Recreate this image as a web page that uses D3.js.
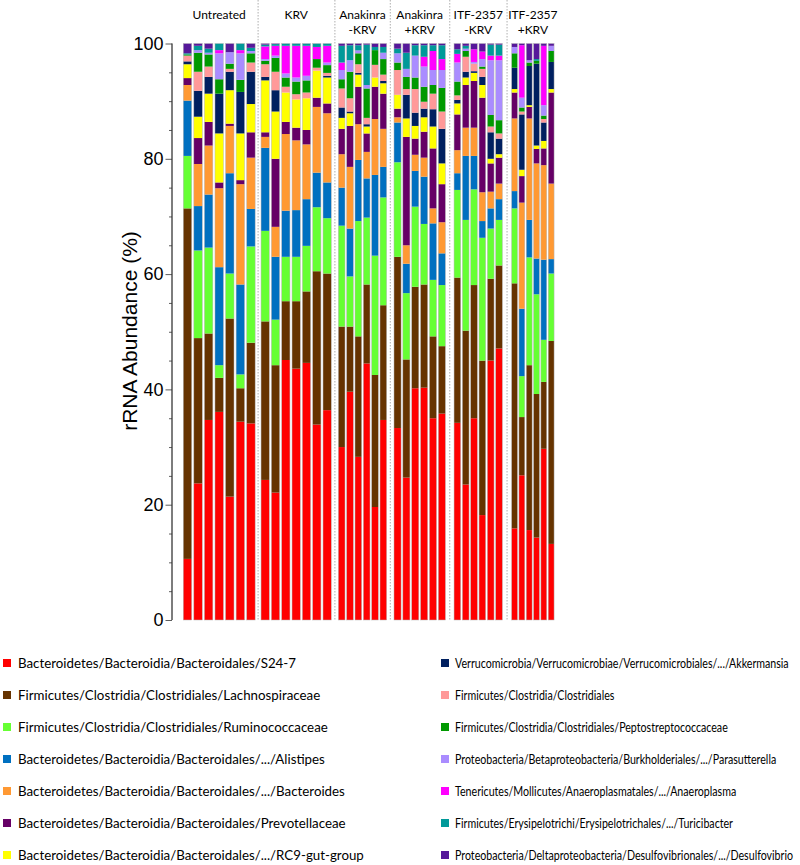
<!DOCTYPE html>
<html>
<head>
<meta charset="utf-8">
<script src="https://cdn.jsdelivr.net/npm/d3@7/dist/d3.min.js"></script>
<style>
  body { margin: 0; background: #ffffff; }
  svg { display: block; }
</style>
</head>
<body>
<svg id="chart" width="800" height="865"></svg>
<script>
// ---------------- DATA ----------------
const categories = [
  "Bacteroidetes/Bacteroidia/Bacteroidales/S24-7",
  "Firmicutes/Clostridia/Clostridiales/Lachnospiraceae",
  "Firmicutes/Clostridia/Clostridiales/Ruminococcaceae",
  "Bacteroidetes/Bacteroidia/Bacteroidales/.../Alistipes",
  "Bacteroidetes/Bacteroidia/Bacteroidales/.../Bacteroides",
  "Bacteroidetes/Bacteroidia/Bacteroidales/Prevotellaceae",
  "Bacteroidetes/Bacteroidia/Bacteroidales/.../RC9-gut-group",
  "Verrucomicrobia/Verrucomicrobiae/Verrucomicrobiales/.../Akkermansia",
  "Firmicutes/Clostridia/Clostridiales",
  "Firmicutes/Clostridia/Clostridiales/Peptostreptococcaceae",
  "Proteobacteria/Betaproteobacteria/Burkholderiales/.../Parasutterella",
  "Tenericutes/Mollicutes/Anaeroplasmatales/.../Anaeroplasma",
  "Firmicutes/Erysipelotrichi/Erysipelotrichales/.../Turicibacter",
  "Proteobacteria/Deltaproteobacteria/Desulfovibrionales/.../Desulfovibrio"
];

const groupLabels = [
  ["Untreated"],
  ["KRV"],
  ["Anakinra", "-KRV"],
  ["Anakinra", "+KRV"],
  ["ITF-2357", "-KRV"],
  ["ITF-2357", "+KRV"]
];

// each row = one animal; values (%) in the order of `categories`
const untreated = [
  [10.6, 60.8,  9.1,  9.6,  2.7,  1.2, 2.4, 0.5, 1.0, 0.2, 0,    0,    0.2,  1.7],
  [23.7, 25.2, 15.2,  7.7,  7.3,  4.5, 3.7, 4.5, 3.3, 3.3, 0.45, 0,    0.75, 0.4],
  [34.7, 15.0, 14.9,  9.2,  8.5,  4.1, 4.9, 2.9, 1.8, 2.1, 0.3,  0,    0.7,  0.9],
  [36.1,  5.9,  2.2, 17.0, 13.7,  1.0, 8.5, 6.9, 0,   2.5, 4.5,  0.55, 1.15, 0],
  [21.4, 30.9,  7.8, 17.4,  8.2,  0.4, 5.8, 3.2, 0.5, 0.9, 2.0,  0,    0,    1.5],
  [34.4,  5.8,  2.4, 15.6, 17.4,  0.7, 8.1, 7.2, 0,   2.1, 4.6,  0.55, 1.15, 0],
  [34.1, 14.0, 16.7,  6.5,  8.9,  4.4, 4.9, 5.6, 1.6, 1.6, 0.4,  0,    0.55, 0.75]
];
const krv = [
  [24.3, 27.5, 15.7, 14.4,  1.9,  0.8, 9.0, 0.6, 2.2, 0.6,  0.3,  2.2, 0.3, 0.2],
  [22.1, 22.1,  7.9, 10.9,  5.2, 11.8, 8.2, 3.7, 3.2, 2.4,  0.4,  1.7, 0.3, 0.1],
  [45.1, 10.2,  7.7,  8.0, 13.3,  2.1, 5.1, 0,   1.0, 1.6,  0.7,  4.8, 0.4, 0],
  [43.6, 11.7,  7.7,  8.1, 12.1,  2.2, 4.9, 0,   0.9, 2.2,  0.7,  5.5, 0.4, 0],
  [44.6, 12.4,  7.9,  8.1,  9.5,  2.5, 5.5, 0,   1.0, 2.1,  0.8,  5.2, 0.4, 0],
  [33.9, 26.6, 11.1,  6.0, 11.4,  1.6, 4.7, 0,   0.5, 1.5,  0,    2.1, 0.6, 0],
  [36.4, 23.7,  9.6,  6.2, 12.0,  1.7, 4.5, 0.3, 0.5, 1.35, 0.45, 2.9, 0.4, 0]
];
const anakinraNoKrv = [
  [30.0, 20.9, 17.5,  6.6,  5.8, 4.4, 1.9, 1.8, 3.3, 1.6,  1.6, 1.3, 2.9,  0.4],
  [39.6, 11.3,  8.7,  8.3, 10.7, 7.1, 2.2, 0.3, 2.3, 4.6,  2.0, 0,   2.6,  0.3],
  [28.3, 20.9, 20.0, 10.6,  6.2, 6.5, 2.1, 0.3, 1.5, 1.9,  0.5, 0,   0.9,  0.3],
  [44.5, 13.7, 11.6,  6.8,  4.6, 3.2, 1.2, 0.4, 1.1, 5.1,  0.6, 0,   7.0,  0.2],
  [19.6, 22.9, 20.7, 14.0,  9.7, 5.6, 1.6, 0,   2.2, 2.55, 0,   0,   0.55, 0.6],
  [34.7, 19.9, 18.7,  5.3,  6.6, 6.1, 1.8, 0.4, 1.1, 2.7,  1.1, 0,   1.0,  0.6]
];
const anakinraKrv = [
  [33.3, 29.7, 16.4, 6.9, 0.9,  1.5, 2.4, 0,   4.3, 1.3, 1.6, 0,   0.8, 0.9],
  [24.7, 20.5, 11.5, 5.1, 3.2, 18.8, 3.2, 4.1, 1.0, 2.1, 1.4, 0,   2.8, 1.6],
  [40.2, 17.6, 13.9, 6.2, 2.8,  2.8, 2.2, 2.3, 4.1, 2.0, 3.8, 0,   1.8, 0.3],
  [40.3, 17.9, 10.5, 8.2, 3.3,  4.5, 2.5, 1.5, 1.2, 2.6, 3.5, 1.7, 2.0, 0.3],
  [35.0, 14.2,  9.8, 9.8, 2.6, 10.4, 3.8, 3.0, 2.7, 1.5, 2.6, 3.3, 1.0, 0.3],
  [35.8, 11.7, 10.6, 5.5, 5.4,  6.6, 3.6, 6.0, 3.0, 4.1, 3.1, 1.9, 2.4, 0.3]
];
const itfNoKrv = [
  [34.2, 25.2, 15.2,  2.9, 4.0,  6.2, 1.9, 0.6, 0.8, 2.4, 3.3,  1.5, 0.8, 1.0],
  [23.5, 26.7, 19.2, 11.1, 4.9,  7.4, 1.3, 1.0, 2.6, 1.0, 0.4,  0,   0.5, 0.4],
  [35.0, 23.1, 16.6,  5.8, 4.9,  8.1, 1.4, 0.3, 1.3, 0,   0.3,  2.2, 0,   1.0],
  [18.2, 26.8, 21.3,  2.9, 5.0, 16.4, 2.2, 1.4, 1.4, 0.4, 1.3,  1.3, 0,   1.4],
  [45.0, 14.2,  8.7,  3.5, 2.9,  4.9, 0.8, 4.6, 1.0, 2.0, 9.5,  0.8, 1.9, 0.2],
  [47.1, 14.4,  7.9,  3.6, 2.7,  4.5, 0.6, 2.7, 0.9, 2.3, 10.4, 0.8, 1.9, 0.2]
];
const itfKrv = [
  [15.9, 42.5, 13.0,  3.0, 12.6,  4.5, 0.6,  3.7, 0,   2.5, 1.1, 0,    0,   0.6],
  [25.1, 10.1,  7.1, 11.7, 18.4,  4.6, 1.1,  9.6, 0.5, 0.7, 1.7, 9.1,  0,   0.3],
  [15.6, 28.6, 18.7,  6.5, 17.6,  2.0, 0.3,  6.8, 0,   0.6, 0.4, 0,    0,   2.9],
  [14.3, 24.9, 17.3,  6.2, 16.5,  2.5, 0.6, 14.2, 0,   0.5, 0,   0,    0.3, 2.7],
  [29.7, 11.6,  7.3, 13.9, 16.4,  2.9, 1.3,  3.2, 0.6, 0.6, 1.8, 10.3, 0,   0.4],
  [13.2, 35.2, 11.7,  2.5, 13.1, 15.8, 0.6,  4.7, 0,   1.9, 0.9, 0,    0,   0.4]
];
const groupData = [untreated, krv, anakinraNoKrv, anakinraKrv, itfNoKrv, itfKrv];

const majorTicks = [0, 20, 40, 60, 80, 100];
const minorTicks = [5, 10, 15, 25, 30, 35, 45, 50, 55, 65, 70, 75, 85, 90, 95];
const yTitle = "rRNA Abundance (%)";

// ---------------- STYLE / LAYOUT ----------------
const colors = [
  "#ff0000", "#663300", "#66ff33", "#0070c0", "#ff9933", "#660066", "#ffff00",
  "#002060", "#ff9999", "#009900", "#aa8cff", "#ff00ff", "#009999", "#56189a"
];
const panelRanges = [
  [182.2, 256.2], [260.0, 332.3], [337.5, 387.5],
  [393.1, 446.3], [453.2, 503.2], [510.9, 554.8]
];
const plotTop = 43.5, plotBottom = 620, axisX = 172;

const svg = d3.select("#chart");
const y = d3.scaleLinear().domain([0, 100]).range([plotBottom, plotTop]);
const keys = d3.range(categories.length);
const stack = d3.stack().keys(keys);

// separators
const sepX = d3.range(1, panelRanges.length).map(i => (panelRanges[i - 1][1] + panelRanges[i][0]) / 2);
svg.append("g").selectAll("line").data(sepX).join("line")
  .attr("x1", d => d).attr("x2", d => d)
  .attr("y1", 0).attr("y2", plotBottom)
  .attr("stroke", "#9a9a9a").attr("stroke-width", 0.8)
  .attr("stroke-dasharray", "1.5,1.5");

// bars
groupData.forEach((rows, gi) => {
  const x = d3.scaleBand().domain(d3.range(rows.length))
    .range(panelRanges[gi]).paddingInner(0.2).paddingOuter(0.1);
  const series = stack(rows.map(r => Object.assign({}, r)));
  const g = svg.append("g");
  g.selectAll("g").data(series).join("g")
    .attr("fill", (d, i) => colors[i])
    .selectAll("rect").data(d => d.map((v, j) => ({ v, j }))).join("rect")
    .attr("x", d => x(d.j))
    .attr("width", x.bandwidth())
    .attr("y", d => y(d.v[1]))
    .attr("height", d => Math.max(0, y(d.v[0]) - y(d.v[1])));
  g.selectAll("rect.outline").data(rows.map((r, j) => ({ j, total: d3.sum(r) }))).join("rect")
    .attr("class", "outline")
    .attr("x", d => x(d.j)).attr("width", x.bandwidth())
    .attr("y", d => y(d.total)).attr("height", d => y(0) - y(d.total))
    .attr("fill", "none").attr("stroke", "#b8b8b8").attr("stroke-width", 0.5);

  const cx = (panelRanges[gi][0] + panelRanges[gi][1]) / 2;
  const t = svg.append("text").attr("text-anchor", "middle")
    .attr("font-family", "Lato, 'Open Sans', sans-serif").attr("font-size", 12).attr("fill", "#000");
  groupLabels[gi].forEach((line, li) => {
    t.append("tspan").attr("x", cx).attr("y", 18.5 + li * 15).text(line);
  });
});

// y axis
const minorAxis = d3.axisLeft(y).tickValues(minorTicks).tickSize(3).tickFormat("");
const majorAxis = d3.axisLeft(y).tickValues(majorTicks).tickSize(6.5).tickPadding(2);
const ga1 = svg.append("g").attr("transform", `translate(${axisX},0)`).call(minorAxis);
const ga2 = svg.append("g").attr("transform", `translate(${axisX},0)`).call(majorAxis);
[ga1, ga2].forEach(g => {
  g.selectAll("path,line").attr("stroke", "#333").attr("stroke-width", 0.8);
  g.select(".domain").attr("d", `M0,${y(100)}V${y(0)}`);
});
ga2.selectAll("text").attr("font-family", "'Liberation Sans', Arial, sans-serif")
  .attr("font-size", 18).attr("fill", "#000");

svg.append("text")
  .attr("transform", `translate(137,331) rotate(-90)`)
  .attr("text-anchor", "middle")
  .attr("font-family", "'Liberation Sans', Arial, sans-serif")
  .attr("font-size", 21).attr("fill", "#000")
  .text(yTitle);

// legend: two columns of seven; the right column is set condensed as in the original
const perCol = 7;
const legend = svg.append("g");
const items = legend.selectAll("g").data(categories.map((c, i) => ({ c, i }))).join("g")
  .attr("transform", d => {
    const col = Math.floor(d.i / perCol), row = d.i % perCol;
    return `translate(${col === 0 ? 3 : 441},${663 + row * 32})`;
  });
items.append("rect").attr("x", 0).attr("y", -4).attr("width", 8).attr("height", 8)
  .attr("fill", d => colors[d.i]);
items.append("text")
  .attr("transform", d => Math.floor(d.i / perCol) === 0 ? "translate(15,0)" : "translate(14,0) scale(0.8,1)")
  .attr("dy", "0.35em")
  .attr("font-family", "Lato, 'Open Sans', sans-serif").attr("font-size", 13.3).attr("fill", "#000")
  .text(d => d.c);
</script>
</body>
</html>
